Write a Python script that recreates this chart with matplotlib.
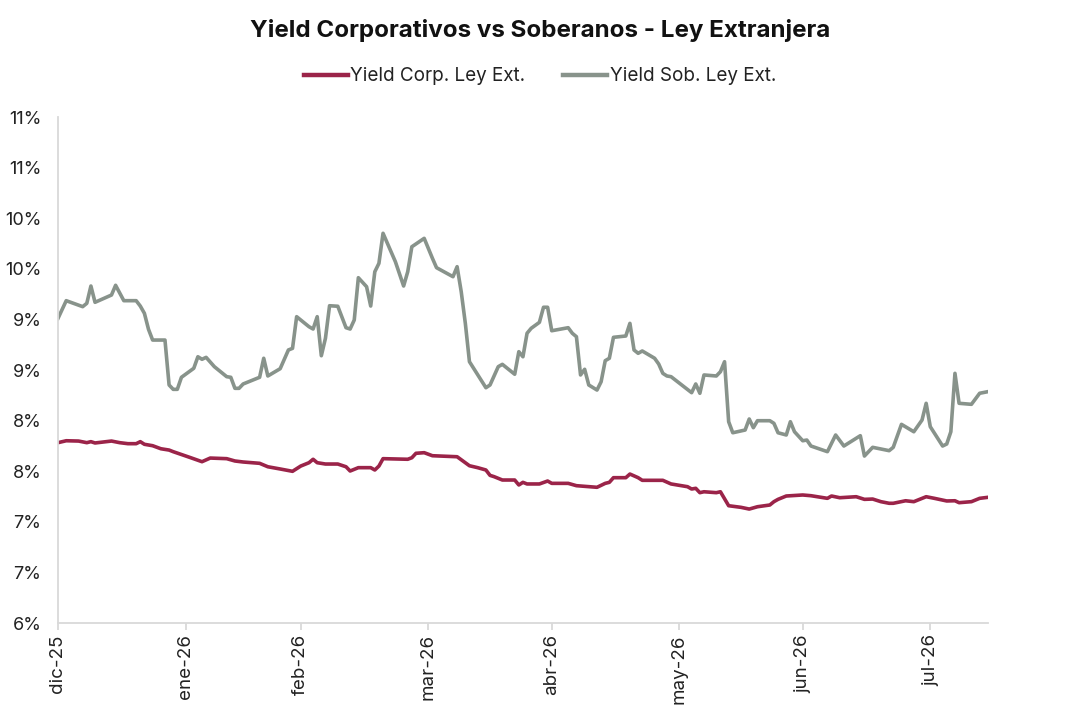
import math

import matplotlib
matplotlib.use("Agg")
import matplotlib.dates as mdates
import matplotlib.pyplot as plt
import pandas as pd

TITLE = "Yield Corporativos vs Soberanos - Ley Extranjera"
CORP_LABEL = "Yield Corp. Ley Ext."
SOB_LABEL = "Yield Sob. Ley Ext."

CORP_COLOR = "#9B2449"
SOB_COLOR = "#88938B"
AXIS_COLOR = "#D9D9D9"

# Yield corporativo (%)
corp_dates = [
    "2025-12-31", "2026-01-02", "2026-01-05", "2026-01-07", "2026-01-08", "2026-01-09",
    "2026-01-13", "2026-01-15", "2026-01-17", "2026-01-19", "2026-01-20", "2026-01-21",
    "2026-01-23", "2026-01-25", "2026-01-27", "2026-01-28", "2026-02-01", "2026-02-04",
    "2026-02-06", "2026-02-10", "2026-02-12", "2026-02-14", "2026-02-18", "2026-02-20",
    "2026-02-23", "2026-02-26", "2026-02-28", "2026-03-02", "2026-03-03", "2026-03-04",
    "2026-03-06", "2026-03-09", "2026-03-11", "2026-03-12", "2026-03-14", "2026-03-17",
    "2026-03-18", "2026-03-19", "2026-03-20", "2026-03-26", "2026-03-27", "2026-03-28",
    "2026-03-30", "2026-04-01", "2026-04-07", "2026-04-10", "2026-04-12", "2026-04-14",
    "2026-04-15", "2026-04-16", "2026-04-18", "2026-04-21", "2026-04-22", "2026-04-23",
    "2026-04-24", "2026-04-27", "2026-04-29", "2026-04-30", "2026-05-04", "2026-05-06",
    "2026-05-11", "2026-05-13", "2026-05-14", "2026-05-15", "2026-05-18", "2026-05-19",
    "2026-05-21", "2026-05-22", "2026-05-27", "2026-05-29", "2026-06-02", "2026-06-03",
    "2026-06-04", "2026-06-05", "2026-06-06", "2026-06-09", "2026-06-10", "2026-06-12",
    "2026-06-15", "2026-06-17", "2026-06-19", "2026-06-22", "2026-06-23", "2026-06-24",
    "2026-06-26", "2026-06-30", "2026-07-02", "2026-07-06", "2026-07-07", "2026-07-09",
    "2026-07-13", "2026-07-15", "2026-07-17", "2026-07-19", "2026-07-21", "2026-07-22",
    "2026-07-25", "2026-07-27", "2026-07-30", "2026-08-01", "2026-08-04", "2026-08-06",
    "2026-08-07", "2026-08-10", "2026-08-12", "2026-08-14",
]
corp_values = [
    7.782, 7.801, 7.798, 7.782, 7.792, 7.779,
    7.798, 7.782, 7.772, 7.772, 7.792, 7.766,
    7.752, 7.722, 7.709, 7.693, 7.637, 7.594,
    7.630, 7.624, 7.601, 7.591, 7.578, 7.544,
    7.522, 7.499, 7.551, 7.584, 7.618, 7.584,
    7.571, 7.571, 7.544, 7.502, 7.535, 7.535,
    7.512, 7.551, 7.624, 7.618, 7.633, 7.677,
    7.683, 7.653, 7.643, 7.554, 7.535, 7.512,
    7.459, 7.446, 7.413, 7.413, 7.364, 7.390,
    7.374, 7.374, 7.403, 7.380, 7.380, 7.357,
    7.341, 7.380, 7.390, 7.436, 7.436, 7.472,
    7.436, 7.410, 7.410, 7.374, 7.347, 7.324,
    7.331, 7.288, 7.297, 7.288, 7.297, 7.159,
    7.143, 7.126, 7.149, 7.166, 7.199, 7.222,
    7.255, 7.265, 7.258, 7.232, 7.255, 7.238,
    7.248, 7.222, 7.225, 7.199, 7.183, 7.183,
    7.208, 7.199, 7.248, 7.232, 7.206, 7.208,
    7.189, 7.199, 7.232, 7.242,
]

# Yield soberano (%)
sob_dates = [
    "2025-12-31", "2026-01-02", "2026-01-06", "2026-01-07", "2026-01-08", "2026-01-09",
    "2026-01-13", "2026-01-14", "2026-01-16", "2026-01-19", "2026-01-20", "2026-01-21",
    "2026-01-22", "2026-01-23", "2026-01-26", "2026-01-27", "2026-01-28", "2026-01-29",
    "2026-01-30", "2026-02-02", "2026-02-03", "2026-02-04", "2026-02-05", "2026-02-07",
    "2026-02-10", "2026-02-11", "2026-02-12", "2026-02-13", "2026-02-14", "2026-02-18",
    "2026-02-19", "2026-02-20", "2026-02-23", "2026-02-25", "2026-02-26", "2026-02-27",
    "2026-03-02", "2026-03-03", "2026-03-04", "2026-03-05", "2026-03-06", "2026-03-07",
    "2026-03-09", "2026-03-11", "2026-03-12", "2026-03-13", "2026-03-14", "2026-03-16",
    "2026-03-17", "2026-03-18", "2026-03-19", "2026-03-20", "2026-03-23", "2026-03-25",
    "2026-03-26", "2026-03-27", "2026-03-30", "2026-04-01", "2026-04-02", "2026-04-06",
    "2026-04-07", "2026-04-08", "2026-04-09", "2026-04-10", "2026-04-14", "2026-04-15",
    "2026-04-17", "2026-04-18", "2026-04-21", "2026-04-22", "2026-04-23", "2026-04-24",
    "2026-04-25", "2026-04-27", "2026-04-28", "2026-04-29", "2026-04-30", "2026-05-04",
    "2026-05-05", "2026-05-06", "2026-05-07", "2026-05-08", "2026-05-09", "2026-05-11",
    "2026-05-12", "2026-05-13", "2026-05-14", "2026-05-15", "2026-05-18", "2026-05-19",
    "2026-05-20", "2026-05-21", "2026-05-22", "2026-05-25", "2026-05-26", "2026-05-27",
    "2026-05-28", "2026-05-29", "2026-06-03", "2026-06-04", "2026-06-05", "2026-06-06",
    "2026-06-09", "2026-06-10", "2026-06-11", "2026-06-12", "2026-06-13", "2026-06-16",
    "2026-06-17", "2026-06-18", "2026-06-19", "2026-06-22", "2026-06-23", "2026-06-24",
    "2026-06-26", "2026-06-27", "2026-06-28", "2026-06-30", "2026-07-01", "2026-07-02",
    "2026-07-06", "2026-07-08", "2026-07-10", "2026-07-14", "2026-07-15", "2026-07-17",
    "2026-07-21", "2026-07-22", "2026-07-24", "2026-07-27", "2026-07-29", "2026-07-30",
    "2026-07-31", "2026-08-03", "2026-08-04", "2026-08-05", "2026-08-06", "2026-08-07",
    "2026-08-10", "2026-08-12", "2026-08-14",
]
sob_values = [
    9.010, 9.185, 9.126, 9.159, 9.330, 9.169,
    9.241, 9.337, 9.185, 9.185, 9.132, 9.060,
    8.902, 8.796, 8.796, 8.352, 8.309, 8.309,
    8.428, 8.517, 8.631, 8.606, 8.625, 8.533,
    8.434, 8.428, 8.319, 8.319, 8.362, 8.428,
    8.616, 8.441, 8.513, 8.698, 8.714, 9.027,
    8.928, 8.905, 9.027, 8.641, 8.813, 9.135,
    9.130, 8.918, 8.905, 8.994, 9.412, 9.323,
    9.132, 9.471, 9.554, 9.851, 9.570, 9.330,
    9.471, 9.718, 9.801, 9.604, 9.511, 9.422,
    9.521, 9.274, 8.961, 8.582, 8.325, 8.352,
    8.533, 8.556, 8.458, 8.681, 8.631, 8.863,
    8.912, 8.971, 9.120, 9.120, 8.888, 8.918,
    8.863, 8.829, 8.451, 8.507, 8.352, 8.302,
    8.384, 8.592, 8.616, 8.823, 8.836, 8.961,
    8.698, 8.665, 8.688, 8.616, 8.559, 8.467,
    8.441, 8.434, 8.276, 8.362, 8.270, 8.451,
    8.441, 8.483, 8.582, 7.989, 7.880, 7.907,
    8.016, 7.930, 7.999, 7.999, 7.973, 7.880,
    7.858, 7.989, 7.890, 7.801, 7.808, 7.749,
    7.693, 7.858, 7.749, 7.851, 7.650, 7.736,
    7.703, 7.736, 7.963, 7.890, 8.006, 8.171,
    7.940, 7.749, 7.769, 7.890, 8.467, 8.171,
    8.161, 8.270, 8.286,
]

# Etiquetas mensuales (fin de mes)
tick_dates = [
    "2025-12-31", "2026-01-31", "2026-02-28", "2026-03-31",
    "2026-04-30", "2026-05-31", "2026-06-30", "2026-07-31",
]
tick_labels = ["dic-25", "ene-26", "feb-26", "mar-26", "abr-26", "may-26", "jun-26", "jul-26"]
y_ticks = [6.0, 6.5, 7.0, 7.5, 8.0, 8.5, 9.0, 9.5, 10.0, 10.5, 11.0]

plt.rcParams["font.family"] = ["Inter", "DejaVu Sans"]

fig = plt.figure(figsize=(10.8, 7.2), dpi=100, facecolor="white")
ax = fig.add_axes([0.0537, 0.1347, 0.861, 0.7028])

ax.plot(pd.to_datetime(corp_dates), corp_values, color=CORP_COLOR, linewidth=2.6,
        label=CORP_LABEL, solid_joinstyle="round")
ax.plot(pd.to_datetime(sob_dates), sob_values, color=SOB_COLOR, linewidth=2.6,
        label=SOB_LABEL, solid_joinstyle="round")

ax.set_xlim(pd.Timestamp("2025-12-31"), pd.Timestamp("2026-08-14"))
ax.set_ylim(6.0, 11.0)

ax.set_yticks(y_ticks)
ax.set_yticklabels([f"{math.floor(v + 0.5)}%" for v in y_ticks])
ax.set_xticks(pd.to_datetime(tick_dates))
ax.set_xticklabels(tick_labels, rotation=90)

for side in ["top", "right"]:
    ax.spines[side].set_visible(False)
for side in ["left", "bottom"]:
    ax.spines[side].set_color(AXIS_COLOR)
    ax.spines[side].set_linewidth(1.3)

ax.tick_params(axis="y", length=0, labelsize=13, colors="#222222", pad=12)
ax.tick_params(axis="x", length=5, width=1.3, color=AXIS_COLOR, labelsize=13.5,
               labelcolor="#222222", pad=3)

fig.text(0.5, 0.958, TITLE, ha="center", va="center", fontsize=17.4, fontweight="bold",
         color="#111111")

fig.legend(loc="center", bbox_to_anchor=(0.5, 0.894), ncol=2, frameon=False,
           fontsize=13.6, handlelength=2.3, handletextpad=0.15, columnspacing=2.0,
           labelcolor="#222222", handleheight=0.7)
for line in fig.legends[0].get_lines():
    line.set_linewidth(3.2)

fig.savefig("out.png", dpi=100, facecolor="white")
plt.close(fig)
